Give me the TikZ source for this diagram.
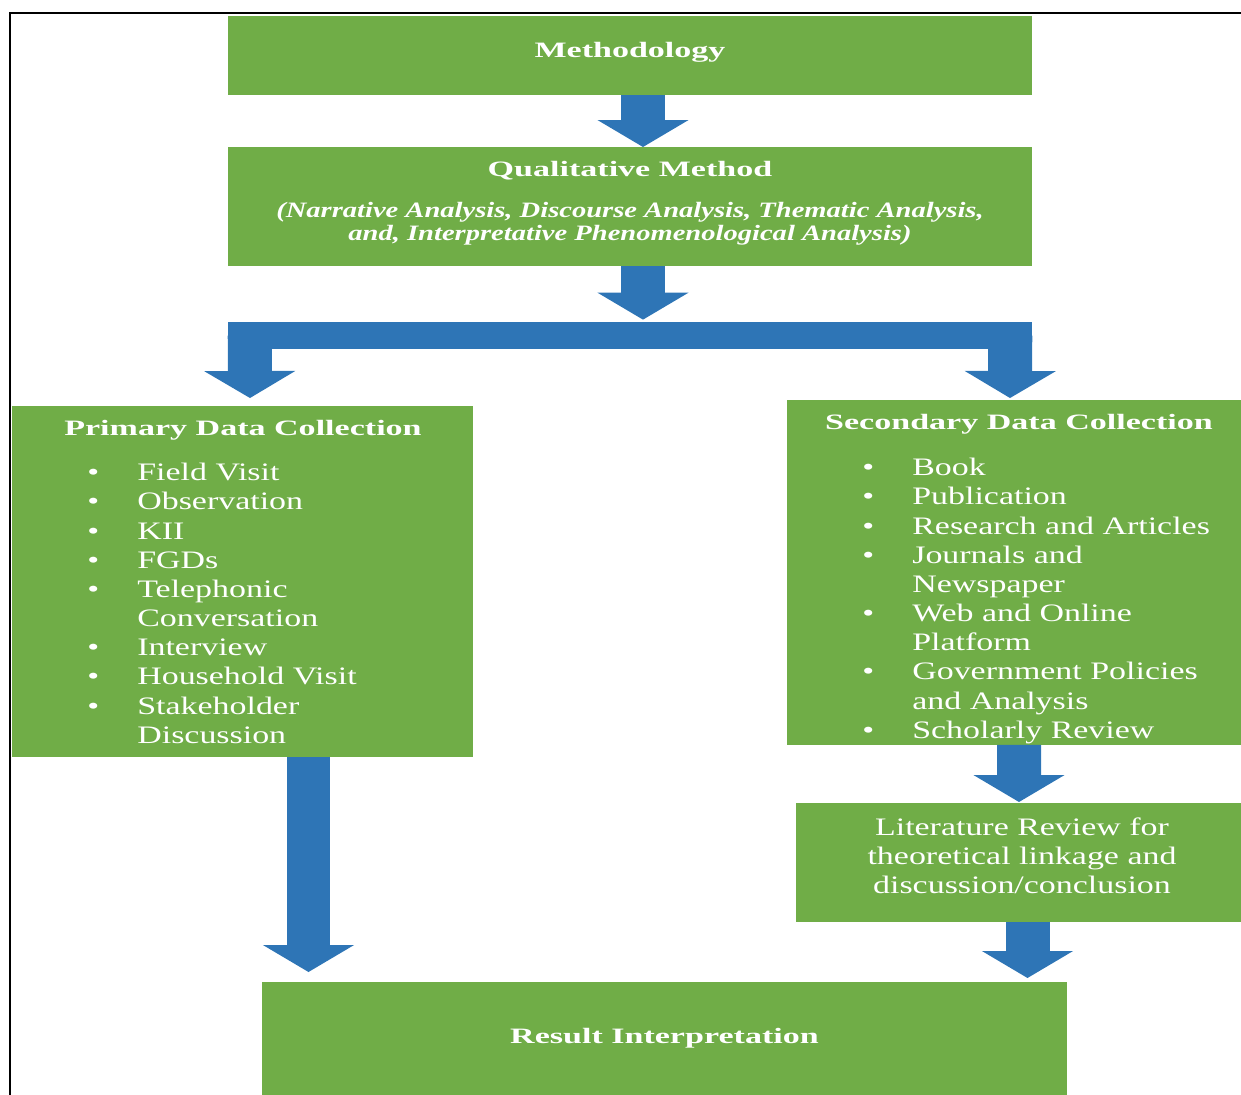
\documentclass[tikz,border=0pt]{standalone}
\usepackage{fontspec}
\setmainfont{Liberation Serif}
\newfontfamily\headfont[FakeStretch=1.55]{Liberation Serif}
\newfontfamily\bodyfont[FakeStretch=1.35]{Liberation Serif}
\newfontfamily\subfont[FakeStretch=1.3]{Liberation Serif}
\usetikzlibrary{arrows.meta,positioning,calc}
\definecolor{boxgreen}{HTML}{70AD47}
\definecolor{flowblue}{HTML}{2E75B6}
\newcommand{\bul}{\makebox[1.0cm][l]{\textbullet}}

\begin{document}
\begin{tikzpicture}[
    x=0.02cm, y=-0.02cm,
    box/.style={rectangle, fill=boxgreen, inner sep=0pt, outer sep=0pt, align=center},
    head/.style={text=white, align=center, font=\headfont\bfseries\fontsize{12.5}{15}\selectfont},
    body/.style={text=white, align=left, inner sep=0pt, font=\bodyfont\fontsize{14.3}{16.6}\selectfont},
    sub/.style={text=white, align=center, font=\subfont\bfseries\itshape\fontsize{12.5}{13}\selectfont},
    flow/.style={flowblue, line width=0.88cm, -{Triangle[width=1.8cm, length=0.54cm]}}
]
\useasboundingbox (0,0) rectangle (1241,1095);
\draw[line width=1.6pt] (10,1095) -- (10,13) -- (1241,13);

\node[box, head, minimum width=16.08cm, minimum height=1.58cm] (meth) at (630,55.5) {\raisebox{0.23cm}{Methodology}};
\node[box, minimum width=16.08cm, minimum height=2.38cm] (qual) at (630,206.5) {};
\node[head] (qualtitle) at (630,171) {Qualitative Method};
\node[sub] (qualsub) at (630,223.5) {(Narrative Analysis, Discourse Analysis, Thematic Analysis,\\and, Interpretative Phenomenological Analysis)};
\node[fill=flowblue, inner sep=0pt, minimum width=16.08cm, minimum height=0.54cm] (bar) at (630,335.5) {};

% primary data
\node[box, minimum width=9.22cm, minimum height=7.02cm] (prim) at (242.5,581.5) {};
\node[head] (primtitle) at (243,430) {Primary Data Collection};
\node[body, anchor=north west] (primlist) at (87,463) {\bul Field Visit\\ \bul Observation\\ \bul KII\\ \bul FGDs\\ \bul Telephonic\\ \hspace*{1.0cm}Conversation\\ \bul Interview\\ \bul Household Visit\\ \bul Stakeholder\\ \hspace*{1.0cm}Discussion};

% secondary data
\node[box, minimum width=9.08cm, minimum height=6.9cm] (sec) at (1014,572.5) {};
\node[head] (sectitle) at (1019,424) {Secondary Data Collection};
\node[body, anchor=north west] (seclist) at (862,458) {\bul Book\\ \bul Publication\\ \bul Research and Articles\\ \bul Journals and\\ \hspace*{1.0cm}Newspaper\\ \bul Web and Online\\ \hspace*{1.0cm}Platform\\ \bul Government Policies\\ \hspace*{1.0cm}and Analysis\\ \bul Scholarly Review};

\node[box, minimum width=8.9cm, minimum height=2.38cm] (lit) at (1018.5,862.5) {};
\node[body, align=center] (littext) at (1022,855.5) {Literature Review for\\theoretical linkage and\\discussion/conclusion};
\node[box, head, minimum width=16.1cm, minimum height=2.26cm] (res) at (664.5,1038.5) {Result Interpretation};

\draw[flow] ($(meth.south)+(13,0)$) -- ($(qual.north)+(13,0)$);
\draw[flow] ($(qual.south)+(13,0)$) -- ($(bar.north)+(13,-2)$);
\draw[flow] ($(bar.west)+(22,0)$) -- ($(prim.north)+(7.5,-8)$);
\draw[flow] ($(bar.east)+(-22,0)$) -- ($(sec.north)+(-4,-2)$);
\draw[flow] ($(prim.south)+(66,0)$) -- ($(res.north)+(-356,-10)$);
\draw[flow] ($(sec.south)+(5,0)$) -- ($(lit.north)+(0.5,-1)$);
\draw[flow] ($(lit.south)+(9,0)$) -- ($(res.north)+(363,-4)$);
\end{tikzpicture}
\end{document}
